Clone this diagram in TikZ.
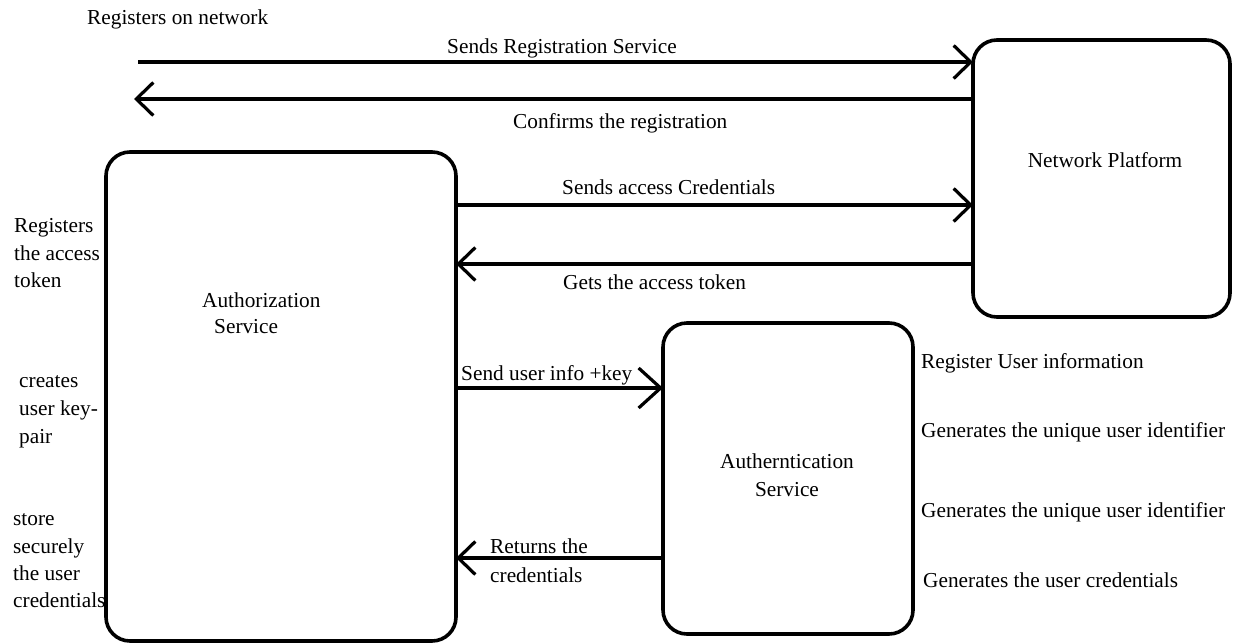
\documentclass[tikz,border=0pt]{standalone}
\usepackage{fontspec}
\setmainfont{Liberation Serif}
\usetikzlibrary{arrows.meta}
\begin{document}
\begin{tikzpicture}[x=1pt,y=-1pt,
  box/.style={draw,line width=3.6pt,rounded corners=24pt,inner sep=0pt,outer sep=0pt},
  txt/.style={inner sep=0pt,anchor=base west,font=\fontsize{21.3}{27.7}\selectfont},
  ctxt/.style={txt,anchor=base},
  arr/.style={line width=3.2pt,-{Straight Barb[length=17pt,width=33pt]}},
  bigarr/.style={line width=3.2pt,-{Straight Barb[length=22pt,width=40pt]}}]
\useasboundingbox[fill=white] (0,0) rectangle (1238,643);
% boxes
\node[box,minimum width=350pt,minimum height=489pt] (auth) at (281,396.5) {};
\node[box,minimum width=257pt,minimum height=277pt] (np) at (1101.5,178.5) {};
\node[box,minimum width=250pt,minimum height=311pt] (authn) at (788,478.5) {};
% box texts
\node[ctxt] (npl) at (1105,167) {Network Platform};
\node[txt] (authl1) at (202,307) {Authorization};
\node[txt] (authl2) at (214,333) {Service};
\node[ctxt] (authnl1) at (787,468) {Autherntication};
\node[ctxt] (authnl2) at (787,496) {Service};
% free ends
\coordinate (regstart) at (138,62);
\coordinate (confend) at (134,99);
% connectors
\draw[arr] (regstart) -- (np.west |- 0,62);
\draw[arr] (np.west |- 0,99) -- (confend);
\draw[arr] (auth.east |- 0,205) -- (np.west |- 0,205);
\draw[arr] (np.west |- 0,264) -- (auth.east |- 0,264);
\draw[bigarr] (auth.east |- 0,388) -- (authn.west |- 0,388);
\draw[arr] (authn.west |- 0,558) -- (auth.east |- 0,558);
% connector labels
\node[txt] (t0) at (87,24) {Registers on network};
\node[txt] (t1) at (447,53) {Sends Registration Service};
\node[txt] (t2) at (513,128) {Confirms the registration};
\node[txt] (t3) at (562,194) {Sends access Credentials};
\node[txt] (t4) at (563,289) {Gets the access token};
\node[txt] (t5) at (461,380) {Send user info +key};
\node[txt] (t6a) at (490,553) {Returns the};
\node[txt] (t6b) at (490,582) {credentials};
% left notes
\node[txt] (l1a) at (14,232) {Registers};
\node[txt] (l1b) at (14,260) {the access};
\node[txt] (l1c) at (14,287) {token};
\node[txt] (l2a) at (19,387) {creates};
\node[txt] (l2b) at (19,415) {user key-};
\node[txt] (l2c) at (19,443) {pair};
\node[txt] (l3a) at (13,525) {store};
\node[txt] (l3b) at (13,553) {securely};
\node[txt] (l3c) at (13,580) {the user};
\node[txt] (l3d) at (13,607) {credentials};
% right notes
\node[txt] (r1) at (921,368) {Register User information};
\node[txt] (r2) at (921,437) {Generates the unique user identifier};
\node[txt] (r3) at (921,517) {Generates the unique user identifier};
\node[txt] (r4) at (923,587) {Generates the user credentials};
\end{tikzpicture}
\end{document}
